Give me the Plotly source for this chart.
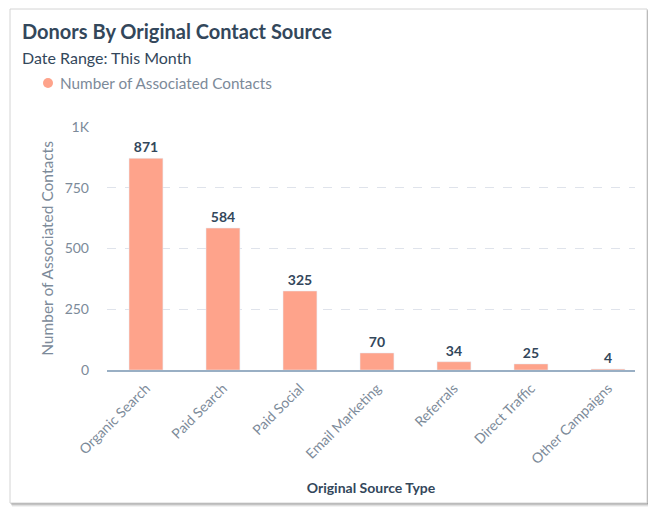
import plotly.graph_objects as go

categories = ["Organic Search", "Paid Search", "Paid Social", "Email Marketing",
              "Referrals", "Direct Traffic", "Other Campaigns"]
contacts = [871, 584, 325, 70, 34, 25, 4]
y_tickvals = [0, 250, 500, 750, 1000]
y_ticktext = ["0", "250", "500", "750", "1K"]
series_name = "Number of Associated Contacts"

# page body has an 8px margin, so the figure is drawn 8px smaller and shifted
OFF = 8
W, H = 656 - OFF, 514 - OFF
L, R, T, B = 107 - OFF, 21, 127 - OFF, 144
PW, PH = W - L - R, H - T - B

def px_x(p):
    return (p - OFF - L) / PW

def px_y(p):
    return (H - B - (p - OFF)) / PH

BAR = "#fea38b"
DARK = "#33475b"
GRAY = "#7c8a99"
FONT = "Lato"

fig = go.Figure()
fig.add_trace(go.Bar(
    x=categories, y=contacts, marker_color=BAR, name=series_name, showlegend=False,
    text=contacts, textposition="outside", cliponaxis=False,
    textfont=dict(family=FONT, size=14, color=DARK, weight="bold"),
))

shapes = []
for off, col in [(4, "rgba(0,0,0,0.05)"), (3, "rgba(0,0,0,0.08)"), (2, "rgba(0,0,0,0.12)"), (1, "rgba(0,0,0,0.16)")]:
    shapes.append(dict(type="rect", xref="paper", yref="paper", layer="below",
                       x0=px_x(10 + off / 2), x1=px_x(647 + off),
                       y0=px_y(9 + off / 2), y1=px_y(503 + off),
                       line=dict(width=0), fillcolor=col))
shapes.append(dict(type="rect", xref="paper", yref="paper", layer="below",
                   x0=px_x(10), x1=px_x(647), y0=px_y(9), y1=px_y(503),
                   line=dict(width=1, color="#d4d4d4"), fillcolor="white"))
# legend marker
shapes.append(dict(type="circle", xref="paper", yref="paper",
                   xsizemode="pixel", ysizemode="pixel",
                   xanchor=px_x(48), yanchor=px_y(83), x0=-5, x1=5, y0=-5, y1=5,
                   line=dict(width=0), fillcolor=BAR))

fig.update_layout(
    width=W, height=H,
    margin=dict(l=L, r=R, t=T, b=B, autoexpand=False),
    paper_bgcolor="white", plot_bgcolor="rgba(0,0,0,0)",
    font=dict(family=FONT, color=GRAY, size=13),
    bargap=0.56,
    shapes=shapes,
    showlegend=False,
    annotations=[
        dict(text="<b>Donors By Original Contact Source</b>", xref="paper", yref="paper",
             x=px_x(20), y=px_y(31), xanchor="left", yanchor="middle", showarrow=False,
             font=dict(family=FONT, size=20, color=DARK)),
        dict(text="Date Range: This Month", xref="paper", yref="paper",
             x=px_x(20), y=px_y(57), xanchor="left", yanchor="middle", showarrow=False,
             font=dict(family=FONT, size=16, color=DARK)),
        dict(text=series_name, xref="paper", yref="paper",
             x=px_x(58), y=px_y(83), xanchor="left", yanchor="middle", showarrow=False,
             font=dict(family=FONT, size=15.3, color=GRAY)),
    ],
    xaxis=dict(
        range=[-0.506, 6.351],
        showline=True, linecolor="#99afc4", linewidth=1.5, showgrid=False,
        tickangle=-45, tickfont=dict(family=FONT, size=14, color=GRAY),
        ticklabelstandoff=3,
        title=dict(text="<b>Original Source Type</b>", standoff=17,
                   font=dict(family=FONT, size=14, color=DARK)),
        automargin=False,
    ),
    yaxis=dict(
        range=[0, 1000], tickvals=y_tickvals, ticktext=y_ticktext,
        showgrid=True, gridcolor="#dfe3eb", griddash="dash", gridwidth=1,
        zeroline=False, showline=False, ticklabelstandoff=17,
        tickfont=dict(family=FONT, size=14, color=GRAY),
        title=dict(text=series_name, standoff=7,
                   font=dict(family=FONT, size=15.5, color=GRAY)),
        automargin=False,
    ),
)

fig.write_html("out.html")
